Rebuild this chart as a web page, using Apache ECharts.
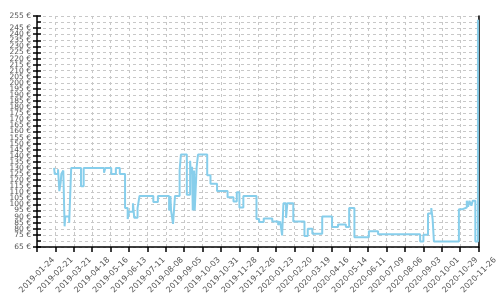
<!DOCTYPE html>
<html>
<head>
<meta charset="utf-8">
<script src="https://cdn.jsdelivr.net/npm/echarts@6/dist/echarts.min.js"></script>
<style>
html,body{margin:0;padding:0;background:#fff;}
#chart{width:500px;height:300px;}
</style>
</head>
<body>
<div id="chart"></div>
<script>
// ---- data ----
var startDate = '2019-01-24';
var endDate = '2020-11-26';
var priceDates = [
  '2019-02-19','2019-02-20','2019-02-25','2019-02-27','2019-03-01','2019-03-02','2019-03-05','2019-03-07','2019-03-08','2019-03-14',
  '2019-03-17','2019-04-01','2019-04-05','2019-05-06','2019-05-08','2019-05-17','2019-05-24','2019-05-30','2019-06-07','2019-06-11',
  '2019-06-13','2019-06-19','2019-06-21','2019-06-26','2019-06-29','2019-07-20','2019-07-27','2019-08-13','2019-08-15','2019-08-16',
  '2019-08-19','2019-08-22','2019-08-29','2019-08-31','2019-09-09','2019-09-14','2019-09-15','2019-09-17','2019-09-18','2019-09-20',
  '2019-09-21','2019-09-24','2019-09-26','2019-10-10','2019-10-15','2019-10-25','2019-11-10','2019-11-19','2019-11-24','2019-11-28',
  '2019-12-04','2019-12-24','2019-12-28','2020-01-04','2020-01-17','2020-01-26','2020-01-29','2020-02-01','2020-02-03','2020-02-07',
  '2020-02-09','2020-02-18','2020-03-06','2020-03-11','2020-03-18','2020-04-02','2020-04-17','2020-04-26','2020-05-08','2020-05-13',
  '2020-05-21','2020-06-12','2020-06-26','2020-08-29','2020-09-03','2020-09-10','2020-09-15','2020-09-17','2020-09-19','2020-10-27',
  '2020-11-01','2020-11-08','2020-11-10','2020-11-12','2020-11-15','2020-11-17','2020-11-21','2020-11-25'
];
var prices = [
  130,125,129,111,118,125,128,82,90,85,
  130,115,130,126,130,125,130,125,97,88,
  94,101,89,97,107,102,107,95,107,95,
  84,107,128,141,108,136,125,131,95,128,
  95,131,141,124,117,111,106,102.5,110,97.5,
  107,88,85.5,88.5,86,83,86,74.5,101,89,
  101,86,74,80,76,90,81.5,83.5,81.5,97,
  73,78,75.5,69.5,75,92.5,97,88,69.5,96,
  97.5,103,98,103,99,103,69.5,252
];
var xTickLabels = [
  '2019-01-24','2019-02-21','2019-03-21','2019-04-18','2019-05-16','2019-06-13','2019-07-11','2019-08-08','2019-09-05',
  '2019-10-03','2019-10-31','2019-11-28','2019-12-26','2020-01-23','2020-02-20','2020-03-19','2020-04-16','2020-05-14',
  '2020-06-11','2020-07-09','2020-08-06','2020-09-03','2020-10-01','2020-10-29','2020-11-26'
];
var yMin = 65, yMax = 255, yStep = 5;
var tickDays = 28;

// ---- build ----
function dayOffset(s){
  var a = s.split('-').map(Number), b = startDate.split('-').map(Number);
  return Math.round((Date.UTC(a[0],a[1]-1,a[2]) - Date.UTC(b[0],b[1]-1,b[2]))/86400000);
}
var seriesData = priceDates.map(function(d,i){ return [dayOffset(d), prices[i]]; });
var xMax = dayOffset(endDate);

var chart = echarts.init(document.getElementById('chart'), null, {renderer:'canvas'});
var axisCol = '#000';
chart.setOption({
  animation:false,
  grid:{left:37,right:15,top:16,bottom:53,containLabel:false},
  xAxis:{
    type:'value', min:0, max:xMax, interval:tickDays,
    axisLine:{show:true, onZero:false, lineStyle:{color:axisCol,width:1.5}},
    axisTick:{show:true, length:5, lineStyle:{color:axisCol,width:1.5}},
    axisLabel:{
      rotate:45, align:'center', verticalAlign:'middle', margin:28, hideOverlap:false,
      showMinLabel:true, showMaxLabel:true,
      fontSize:8, color:'#555', fontFamily:'DejaVu Sans',
      formatter:function(v){ return xTickLabels[Math.round(v/tickDays)] || ''; }
    },
    splitLine:{show:true, lineStyle:{color:'#c8c8c8', type:[3,3], width:1}}
  },
  yAxis:[{
    type:'value', min:yMin, max:yMax, interval:yStep, position:'left',
    axisLine:{show:true, lineStyle:{color:axisCol,width:1.5}},
    axisTick:{show:true, length:4, lineStyle:{color:axisCol,width:1.5}},
    axisLabel:{margin:6, fontSize:7.5, color:'#555', fontFamily:'DejaVu Sans', formatter:'{value} €',
      hideOverlap:false, showMinLabel:true, showMaxLabel:true},
    splitLine:{show:true, lineStyle:{color:'#c8c8c8', type:[3,3], width:1}}
  },{
    type:'value', min:yMin, max:yMax, interval:yStep, position:'right',
    axisLine:{show:true, lineStyle:{color:axisCol,width:1.5}},
    axisTick:{show:false}, axisLabel:{show:false}, splitLine:{show:false}
  },{
    type:'value', min:yMin, max:yMax, interval:yStep, position:'left',
    axisLine:{show:false},
    axisTick:{show:true, inside:true, length:4, lineStyle:{color:axisCol,width:1.5}},
    axisLabel:{show:false}, splitLine:{show:false}
  }],
  series:[{
    type:'line', step:'end', showSymbol:false, yAxisIndex:0,
    data:seriesData,
    lineStyle:{color:'#87CEEB', width:2},
    itemStyle:{color:'#87CEEB'}
  }]
});
</script>
</body>
</html>
